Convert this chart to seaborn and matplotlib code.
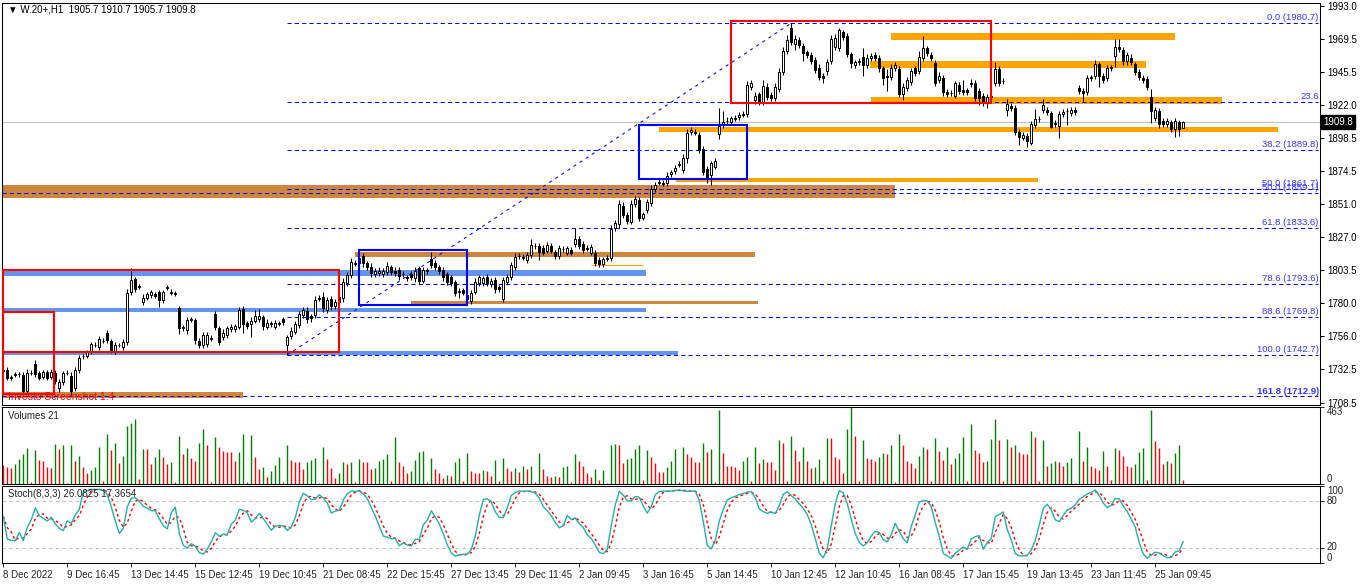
import numpy as np
import pandas as pd
import matplotlib
matplotlib.use("Agg")
import matplotlib.pyplot as plt
from matplotlib.patches import Rectangle
from matplotlib.transforms import blended_transform_factory
import seaborn as sns

# ---------------- data ----------------
opens = [
 1731.0,1731.9,1726.5,1728.5,1729.0,1728.3,1716.8,1729.5,1736.0,1729.5,
 1726.9,1730.2,1726.9,1730.0,1718.8,1723.5,1729.6,1727.8,1718.8,1731.9,
 1742.0,1742.2,1745.1,1749.6,1748.6,1752.5,1758.2,1752.7,1745.1,1749.6,
 1748.6,1751.8,1788.1,1797.2,1791.5,1780.4,1783.3,1785.5,1786.4,1787.6,
 1782.1,1790.8,1787.4,1786.7,1776.1,1762.1,1760.6,1768.1,1767.8,1752.7,
 1749.8,1750.5,1754.4,1772.0,1761.8,1755.3,1757.0,1761.0,1761.5,1763.0,
 1775.4,1765.4,1764.9,1767.3,1768.2,1769.7,1763.0,1764.9,1763.0,1765.2,
 1768.2,1749.8,1756.3,1759.4,1764.2,1771.3,1774.4,1770.6,1771.3,1783.1,
 1784.5,1775.0,1782.6,1777.8,1781.0,1783.3,1794.5,1800.0,1808.2,1808.4,
 1813.7,1808.4,1806.0,1800.7,1801.7,1800.7,1802.4,1805.5,1803.1,1803.6,
 1800.5,1798.1,1800.7,1797.6,1804.8,1796.0,1802.9,1811.3,1808.9,1805.5,
 1803.6,1800.7,1798.3,1795.2,1787.9,1789.3,1786.0,1781.6,1788.1,1794.5,
 1794.5,1798.3,1793.6,1796.4,1791.2,1782.6,1795.2,1798.3,1806.0,1813.5,
 1812.5,1810.8,1814.4,1820.6,1820.8,1819.2,1817.5,1820.8,1816.8,1813.7,
 1818.4,1816.1,1818.0,1822.3,1825.6,1822.3,1819.0,1816.1,1816.1,1810.8,
 1807.9,1811.8,1812.0,1833.5,1836.4,1849.8,1843.0,1838.3,1850.7,1853.8,
 1841.2,1846.7,1851.5,1861.7,1866.3,1865.6,1865.8,1872.2,1874.6,1879.3,
 1875.4,1884.2,1902.4,1902.2,1900.5,1890.4,1876.1,1871.8,1877.8,1900.9,
 1907.6,1910.3,1910.0,1912.2,1913.6,1915.1,1915.3,1935.1,1925.6,1929.6,
 1923.9,1935.1,1929.1,1927.2,1933.5,1945.4,1960.7,1977.5,1965.5,1968.6,
 1964.5,1959.8,1957.8,1954.3,1948.8,1943.0,1946.4,1953.5,1963.8,1963.1,
 1974.1,1971.7,1958.3,1950.7,1953.0,1956.7,1950.7,1955.5,1957.8,1955.9,
 1948.3,1942.1,1942.3,1948.3,1947.8,1929.6,1934.4,1938.2,1948.3,1946.4,
 1955.4,1962.6,1957.8,1951.9,1939.9,1941.6,1931.5,1930.3,1928.7,1936.3,
 1932.7,1932.5,1937.3,1937.5,1932.0,1928.7,1923.9,1927.5,1937.5,1947.8,
 1939.0,1918.4,1921.5,1919.6,1902.8,1898.6,1900.0,1894.5,1907.6,1911.7,
 1918.4,1918.4,1916.0,1908.6,1907.2,1915.3,1917.5,1916.0,1918.4,1934.4,
 1932.0,1931.5,1941.4,1943.0,1951.2,1943.0,1941.1,1948.6,1957.4,1963.8,
 1961.4,1953.5,1955.9,1951.2,1945.9,1941.6,1940.6,1927.9,1912.4,1917.7,
 1910.5,1908.1,1909.6,1904.8,1909.6,1905.7]

closes = [
 1732.0,1726.4,1727.1,1728.8,1729.3,1716.8,1730.0,1730.0,1729.0,1726.4,
 1730.2,1726.4,1730.2,1724.0,1723.1,1729.5,1730.0,1716.8,1731.9,1740.3,
 1742.2,1744.6,1750.3,1750.0,1753.9,1752.9,1753.4,1746.3,1749.8,1750.0,
 1751.8,1786.9,1796.5,1790.0,1791.9,1783.8,1786.4,1787.6,1785.2,1782.1,
 1787.6,1791.2,1787.8,1787.1,1762.3,1762.5,1767.8,1768.5,1753.4,1749.8,
 1757.0,1757.0,1754.8,1762.5,1752.2,1758.7,1761.8,1763.0,1763.4,1774.9,
 1764.9,1763.4,1767.3,1770.6,1770.6,1763.4,1765.8,1765.3,1765.8,1765.6,
 1766.5,1755.3,1760.1,1764.9,1772.0,1774.9,1768.2,1769.0,1782.1,1783.5,
 1776.1,1782.1,1777.8,1780.9,1784.0,1795.2,1800.0,1809.6,1808.6,1812.0,
 1808.4,1805.5,1801.2,1803.1,1803.1,1803.1,1806.5,1802.4,1801.7,1799.3,
 1800.9,1798.5,1798.3,1803.1,1796.0,1803.6,1803.3,1807.2,1805.5,1803.1,
 1798.3,1795.2,1794.5,1787.4,1788.3,1787.4,1783.0,1787.4,1795.2,1798.3,
 1797.6,1794.5,1796.0,1789.8,1789.8,1796.4,1798.3,1807.2,1812.7,1813.9,
 1812.9,1814.4,1821.6,1821.0,1816.8,1816.1,1821.6,1817.5,1813.7,1819.2,
 1818.8,1819.2,1816.1,1825.6,1820.8,1818.0,1819.4,1819.9,1808.9,1807.9,
 1811.3,1812.2,1833.0,1837.1,1850.7,1843.1,1838.8,1850.7,1854.5,1841.2,
 1843.6,1852.2,1861.7,1864.6,1866.7,1866.0,1871.3,1873.7,1877.0,1879.7,
 1884.2,1901.7,1904.0,1902.6,1889.7,1874.2,1869.4,1880.1,1881.8,1907.2,
 1910.0,1910.7,1912.4,1912.6,1914.8,1915.5,1936.3,1937.5,1928.7,1923.9,
 1935.8,1927.9,1927.2,1935.1,1945.4,1960.7,1968.6,1967.4,1969.3,1965.0,
 1959.0,1957.8,1953.5,1947.1,1942.3,1941.1,1952.6,1969.3,1970.3,1975.8,
 1971.0,1958.3,1951.9,1952.6,1953.4,1950.7,1955.9,1957.4,1955.5,1948.3,
 1941.1,1942.5,1948.8,1950.7,1929.6,1935.1,1939.9,1946.4,1944.7,1956.6,
 1963.1,1959.0,1955.4,1937.5,1943.0,1931.1,1929.6,1930.7,1937.5,1932.0,
 1931.1,1931.1,1937.7,1927.2,1927.2,1923.9,1927.9,1928.5,1947.8,1937.5,
 1939.4,1922.5,1919.6,1902.8,1899.3,1900.5,1896.2,1908.1,1911.9,1912.1,
 1922.0,1917.2,1906.4,1909.0,1915.3,1917.2,1917.9,1918.4,1916.7,1932.0,
 1930.3,1941.1,1941.8,1951.2,1943.0,1939.9,1948.3,1949.0,1963.8,1962.1,
 1953.5,1957.8,1953.0,1945.9,1942.3,1939.9,1935.1,1917.7,1918.4,1908.1,
 1908.1,1910.5,1904.8,1910.5,1904.8,1909.8]

upper_wick = [
 2.0,2.5,1.5,2.0,1.5,2.0,2.5,2.0,3.0,1.5, 2.0,1.5,2.5,2.0,2.5,1.5,2.0,2.5,2.0,2.5,
 1.5,2.0,1.5,2.0,2.5,2.0,2.5,1.5,2.0,1.5, 2.0,3.0,8.8,1.5,2.0,2.5,1.5,2.0,1.5,1.5,
 2.0,1.5,2.0,1.5,2.0,1.5,2.0,1.5,1.5,2.0, 2.5,2.0,2.0,2.5,2.0,2.5,2.0,2.0,1.5,2.0,
 2.5,2.0,2.5,4.5,5.0,2.0,2.5,2.0,2.0,1.5, 1.5,2.0,2.5,2.0,2.5,2.0,2.5,1.5,3.0,2.0,
 3.5,2.0,2.5,2.0,2.0,2.5,2.0,2.5,2.0,2.0, 2.0,2.0,2.5,2.0,2.5,2.0,3.0,2.0,2.5,2.0,
 2.0,1.5,2.0,2.5,2.0,2.5,2.0,5.5,2.0,1.5, 2.0,1.5,2.0,1.5,2.5,1.5,2.0,2.0,2.5,2.0,
 2.0,2.5,2.0,2.5,1.5,2.0,2.5,2.0,3.0,2.0, 2.0,2.5,4.0,2.0,2.0,2.5,2.0,2.0,1.5,2.5,
 2.0,2.0,2.0,8.0,2.5,2.0,2.0,2.5,2.0,2.0, 2.0,2.0,3.0,2.5,3.0,2.5,2.0,3.0,2.5,2.0,
 2.0,2.5,3.0,2.0,2.0,2.0,2.5,2.0,2.0,2.0, 2.5,3.0,2.5,2.0,2.0,2.0,2.5,2.0,2.5,12.4,
 7.7,2.5,2.0,2.0,2.0,2.0,3.0,2.5,2.5,2.0, 4.0,2.5,2.0,2.5,3.0,3.0,3.5,3.2,3.0,2.5,
 2.0,2.0,2.0,2.0,2.5,2.0,2.5,3.0,2.5,1.7, 2.0,2.0,2.0,2.0,2.5,6.0,2.5,2.0,2.5,2.0,
 2.0,5.0,2.5,2.5,2.0,2.5,2.0,2.5,2.0,4.0, 8.6,2.0,2.0,2.5,2.5,2.0,2.0,2.0,2.0,2.5,
 7.0,2.0,3.0,2.5,2.0,2.0,2.0,2.0,5.0,2.0, 2.0,4.0,2.0,2.5,2.0,2.0,2.0,2.5,7.5,2.0,
 4.0,2.0,2.0,2.5,2.5,2.0,2.0,2.0,2.0,2.0, 2.0,2.5,2.0,3.0,2.0,2.0,2.5,2.0,5.5,5.5,
 2.0,2.0,2.5,2.0,2.0,2.0,2.0,5.6,2.0,2.5, 2.0,2.0,2.0,2.0,2.0,0.9]

lower_wick = [
 2.0,1.5,2.0,1.5,2.0,2.5,2.0,1.5,2.0,2.0, 1.5,2.0,1.5,2.0,2.5,2.0,1.5,2.5,2.0,2.0,
 2.0,1.5,2.0,1.5,2.0,1.5,2.0,2.5,2.0,1.5, 2.0,2.0,2.5,2.0,1.5,2.0,1.5,2.0,1.5,4.8,
 2.0,1.5,2.0,1.5,4.8,2.0,3.0,1.5,3.0,2.0, 2.0,2.0,2.0,2.0,2.5,2.0,2.0,1.5,2.0,2.0,
 6.5,2.0,9.6,2.0,2.0,2.5,2.0,2.0,2.0,1.5, 2.0,7.1,2.5,2.0,2.0,2.0,2.5,3.0,2.0,2.0,
 2.5,2.0,2.5,2.0,2.0,2.5,2.0,2.0,2.0,2.0, 2.5,2.0,2.5,2.0,2.0,2.0,2.0,2.5,2.0,2.5,
 2.0,2.0,2.0,2.5,2.5,2.0,2.0,2.0,2.0,2.0, 2.5,2.0,2.5,2.5,4.0,2.0,2.0,2.5,2.0,2.0,
 2.0,2.0,2.0,2.5,2.0,2.0,2.0,2.0,2.5,2.0, 2.0,2.0,2.0,2.0,6.0,2.0,2.0,2.0,2.5,2.0,
 2.0,2.0,2.0,2.0,2.0,2.5,2.0,2.0,2.5,2.0, 2.0,2.0,2.0,2.0,2.5,2.0,2.5,2.0,2.0,2.5,
 2.0,2.0,2.0,2.0,2.0,2.0,2.0,2.0,2.0,2.0, 2.0,4.0,2.0,2.0,2.0,2.5,3.6,7.0,2.0,3.0,
 2.0,2.5,2.0,2.0,2.0,2.0,2.0,2.0,2.5,2.0, 2.0,2.5,2.0,2.0,2.5,2.0,2.0,2.5,4.0,2.0,
 5.5,2.0,2.0,2.0,2.5,3.0,2.5,2.0,2.0,2.0, 2.0,2.0,3.0,2.0,2.0,8.0,2.0,2.0,2.0,2.5,
 5.0,10.0,2.0,2.0,2.0,4.0,2.0,2.0,2.0,2.0, 2.0,2.0,2.0,1.5,2.0,2.5,2.0,2.0,2.0,2.0,
 2.0,2.0,2.5,2.0,5.0,2.5,4.0,2.0,2.0,2.0, 2.0,4.0,2.0,2.5,6.0,2.0,4.5,1.0,2.0,2.0,
 2.0,2.0,1.0,2.5,9.0,2.0,10.0,2.0,2.0,2.0, 6.0,2.0,2.0,2.5,8.0,2.0,2.0,2.0,8.0,2.0,
 2.5,2.5,2.0,2.0,2.0,2.0,2.0,8.5,2.0,2.5, 2.0,2.0,2.0,5.5,4.7,0.0]

volumes = [
 113,101,95,119,146,180,214,11,203,140,135,101,95,241,207,232,
 5,236,135,169,101,61,79,101,221,18,297,203,243,124,169,349,
 365,389,29,207,207,119,162,207,162,117,128,11,288,176,214,153,
 135,243,331,236,11,281,221,198,191,191,135,191,297,11,293,162,
 90,101,38,74,113,158,7,230,140,128,128,86,128,140,153,5,
 221,146,95,34,61,128,117,128,11,146,128,128,86,95,135,146,
 176,18,281,128,108,63,74,140,191,198,11,153,86,61,36,54,
 47,128,155,14,182,74,61,61,81,74,47,142,14,155,95,74,
 95,68,108,88,108,7,182,88,47,41,47,41,101,108,7,176,
 135,108,61,41,88,20,81,3,236,238,230,122,149,155,209,236,
 20,203,162,122,68,68,101,135,209,7,223,176,162,128,128,243,
 189,209,7,446,182,108,108,101,81,135,162,14,223,122,149,128,
 128,81,263,243,14,290,203,135,223,135,95,101,149,14,277,277,
 162,149,61,331,463,290,14,263,155,149,135,162,182,176,230,7,
 297,230,135,122,95,169,223,209,14,277,196,142,223,115,155,182,
 284,14,358,203,182,128,135,270,392,263,14,270,223,236,189,176,
 176,317,284,14,263,108,122,135,128,108,128,155,3,317,135,223,
 108,95,81,196,108,20,216,203,169,108,101,115,189,216,20,446,
 257,216,115,135,122,182,230,20]

time_labels = ["8 Dec 2022", "9 Dec 16:45", "13 Dec 14:45", "15 Dec 12:45",
               "19 Dec 10:45", "21 Dec 08:45", "22 Dec 15:45", "27 Dec 13:45",
               "29 Dec 11:45", "2 Jan 09:45", "3 Jan 16:45", "5 Jan 14:45",
               "10 Jan 12:45", "12 Jan 10:45", "16 Jan 08:45", "17 Jan 15:45",
               "19 Jan 13:45", "23 Jan 11:45", "25 Jan 09:45"]
label_step = 16

price_ticks = [1993.0, 1969.5, 1945.5, 1922.0, 1898.5, 1874.5, 1851.0,
               1827.0, 1803.5, 1780.0, 1756.0, 1732.5, 1708.5]

# Fibonacci retracement (drawn from swing low bar 71 to swing high bar 197)
fib_start_bar, fib_end_bar = 71, 197
fib_low, fib_high = 1742.7, 1980.7
fib_levels = [1980.7, 1924.5, 1889.8, 1861.7, 1833.6, 1793.6, 1769.8, 1742.7]
fib_texts = ["0.0 (1980.7)", "23.6", "38.2 (1889.8)", "50.0 (1861.7)",
             "61.8 (1833.6)", "78.6 (1793.6)", "88.6 (1769.8)", "100.0 (1742.7)"]
fib2_levels = [1859.1, 1712.9]
fib2_texts = ["50.0 (1859.1)", "161.8 (1712.9)"]

# chart objects: (first bar, last bar, low price, high price)
red_boxes = [(-0.1, 12.7, 1714.7, 1773.5), (-0.1, 83.9, 1745.0, 1803.6),
             (181.9, 246.9, 1923.6, 1982.2)]
blue_boxes = [(88.9, 115.9, 1778.5, 1818.0), (158.9, 185.9, 1868.9, 1907.6)]
blue_zones = [(-0.1, 160.7, 1799.5, 1803.6), (-0.1, 160.7, 1773.3, 1776.6),
              (-0.1, 168.7, 1742.6, 1745.8)]
brown_zones = [(-0.1, 222.9, 1855.0, 1864.6), (87.9, 187.9, 1812.7, 1816.7),
               (101.9, 188.7, 1779.0, 1781.4), (-0.1, 59.9, 1711.6, 1716.3)]
orange_zones = [(221.9, 292.9, 1968.6, 1973.4), (216.7, 285.7, 1948.7, 1953.5),
                (216.9, 304.7, 1922.5, 1927.9), (163.9, 318.7, 1902.4, 1906.4),
                (168.2, 258.7, 1866.5, 1869.6)]
orange_line = (147.0, 160.0, 1807.0)

header = "\u25BC W.20+,H1  1905.7 1910.7 1905.7 1909.8"
last_price = 1909.8
vol_title = "Volumes 21"
stoch_title = "Stoch(8,3,3) 26.0825 17.3654"
k_period, k_slow, d_period = 8, 3, 3

# ---------------- style ----------------
sns.set_theme(style="white")
plt.rcParams['font.family'] = ['Liberation Sans', 'DejaVu Sans']
plt.rcParams['axes.linewidth'] = 0.75
plt.rcParams['axes.edgecolor'] = 'black'

W, H = 1362, 585
fig = plt.figure(figsize=(W / 100, H / 100), dpi=100)
fig.patch.set_facecolor('white')


def rect(x0, y0, x1, y1):
    return [x0 / W, 1 - y1 / H, (x1 - x0) / W, (y1 - y0) / H]


ax = fig.add_axes(rect(2, 3, 1320, 405))
axv = fig.add_axes(rect(2, 407, 1320, 483.5), sharex=ax)
axs = fig.add_axes(rect(2, 485.5, 1320, 563), sharex=ax)

o = np.array(opens)
c = np.array(closes)
hi = np.maximum(o, c) + np.array(upper_wick)
lo = np.minimum(o, c) - np.array(lower_wick)
x = np.arange(len(c))
XMIN, XMAX = -0.33, 329.2

# ---- main chart ----
for (b0, b1, p0, p1), col in ([(z, '#6495ED') for z in blue_zones] +
                               [(z, '#CD853F') for z in brown_zones] +
                               [(z, '#FFA500') for z in orange_zones]):
    ax.add_patch(Rectangle((b0, p0), b1 - b0, p1 - p0, facecolor=col,
                           edgecolor='none', zorder=1))
ax.hlines(orange_line[2], orange_line[0], orange_line[1], colors='#FFA500',
          lw=0.8, zorder=1)
ax.axhline(last_price, color='#C0C0C0', lw=0.8, zorder=1.5)

fib_dash = (0, (4, 3))
ax.hlines(fib_levels, fib_start_bar, 328.7, colors='#0000FF', lw=0.75,
          linestyles=[fib_dash], zorder=2)
ax.hlines(fib2_levels, XMIN, 328.7, colors='#0000FF', lw=0.75,
          linestyles=[fib_dash], zorder=2)
ax.plot([fib_start_bar, fib_end_bar], [fib_low, fib_high], color='#0000FF',
        lw=0.75, ls=(0, (3, 4)), zorder=2)
for lev, t in zip(fib_levels + fib2_levels, fib_texts + fib2_texts):
    ax.text(328.9, lev + 0.6, t, ha='right', va='bottom', fontsize=6.8,
            color='#3535FF', zorder=6,
            fontweight='bold' if t.startswith('161.8') else 'normal')

ax.vlines(x, lo, hi, color='black', lw=0.75, zorder=3)
bull = c >= o
ax.bar(x[bull], (c - o)[bull], bottom=o[bull], width=0.5, color='white',
       edgecolor='black', lw=0.7, zorder=4)
ax.bar(x[~bull], (c - o)[~bull], bottom=o[~bull], width=0.5, color='black',
       edgecolor='black', lw=0.7, zorder=4)

for (b0, b1, p0, p1) in red_boxes:
    ax.add_patch(Rectangle((b0, p0), b1 - b0, p1 - p0, fill=False,
                           edgecolor='#FF0000', lw=1.5, zorder=5))
for (b0, b1, p0, p1) in blue_boxes:
    ax.add_patch(Rectangle((b0, p0), b1 - b0, p1 - p0, fill=False,
                           edgecolor='#0000FF', lw=1.5, zorder=5))

ax.set_xlim(XMIN, XMAX)
ax.set_ylim(1706.8, 1995.2)
ax.yaxis.tick_right()
ax.set_yticks(price_ticks)
ax.set_yticklabels([f"{p:.1f}" for p in price_ticks])
ax.tick_params(axis='y', which='both', right=True, left=False, length=3,
               width=0.7, labelsize=7, pad=2, colors='black')
ax.tick_params(axis='x', bottom=False, labelbottom=False)
tr = blended_transform_factory(ax.transAxes, ax.transData)
ax.text(1 + 3 / 1318, last_price, f"{last_price:.1f}", transform=tr,
        ha='left', va='center', fontsize=7, color='white', zorder=10,
        bbox=dict(boxstyle='square,pad=0.18', facecolor='black',
                  edgecolor='black'))
fig.text(8 / W, 1 - 10 / H, header, ha='left', va='center', fontsize=7,
         color='black')
fig.text(8 / W, 1 - 397 / H, "Investo Screenshot 1.4", ha='left',
         va='center', fontsize=7.5, color='#FF0000')

# ---- volumes ----
vol = np.array(volumes)
vcolors = ['#FF0000'] + ['#008000' if vol[i] > vol[i - 1] else '#FF0000'
                         for i in range(1, len(vol))]
axv.vlines(x, 0, vol, colors=vcolors, lw=1.0)
axv.set_ylim(0, 463)
axv.yaxis.tick_right()
axv.set_yticks([0, 463])
axv.set_yticklabels(['0', '463'])
for lab, va in zip(axv.get_yticklabels(), ['bottom', 'top']):
    lab.set_verticalalignment(va)
axv.tick_params(axis='y', right=True, left=False, length=3, width=0.7,
                labelsize=7, pad=2)
axv.tick_params(axis='x', bottom=False, labelbottom=False)
fig.text(8 / W, 1 - 416 / H, vol_title, ha='left', va='center', fontsize=7)

# ---- stochastic ----
df = pd.DataFrame({'h': hi, 'l': lo, 'c': c})
ll = df['l'].rolling(k_period, min_periods=1).min()
hh = df['h'].rolling(k_period, min_periods=1).max()
num = (df['c'] - ll).rolling(k_slow, min_periods=1).sum()
den = (hh - ll).rolling(k_slow, min_periods=1).sum()
k_line = 100 * num / den
d_line = k_line.rolling(d_period, min_periods=1).mean()
stoch = pd.DataFrame({'bar': x, 'K': k_line.values, 'D': d_line.values})

axs.axhline(80, color='#C0C0C0', lw=0.8, ls=(0, (3, 3)))
axs.axhline(20, color='#C0C0C0', lw=0.8, ls=(0, (3, 3)))
sns.lineplot(data=stoch, x='bar', y='D', ax=axs, color='#FF0000', lw=1.0,
             linestyle=(0, (2, 2)))
sns.lineplot(data=stoch, x='bar', y='K', ax=axs, color='#20B2AA', lw=1.0)
axs.set_ylim(0, 100)
axs.set_xlabel('')
axs.set_ylabel('')
axs.yaxis.tick_right()
axs.set_yticks([0, 20, 80, 100])
axs.set_yticklabels(['0', '20', '80', '100'])
for lab, va in zip(axs.get_yticklabels(), ['bottom', 'center', 'center', 'top']):
    lab.set_verticalalignment(va)
axs.tick_params(axis='y', right=True, left=False, length=3, width=0.7,
                labelsize=7, pad=2)
axs.set_xticks(np.arange(0, len(time_labels) * label_step, label_step))
axs.set_xticklabels(time_labels, ha='left')
axs.tick_params(axis='x', bottom=True, length=3, width=0.7, labelsize=7,
                pad=2)
axs.set_xlim(XMIN, XMAX)
fig.text(8 / W, 1 - 494 / H, stoch_title, ha='left', va='center', fontsize=7)

for a in (ax, axv, axs):
    for s in a.spines.values():
        s.set_visible(True)
        s.set_color('black')
        s.set_linewidth(0.75)
    a.set_facecolor('white')
    a.grid(False)

fig.savefig("out.png", dpi=100, facecolor='white')
